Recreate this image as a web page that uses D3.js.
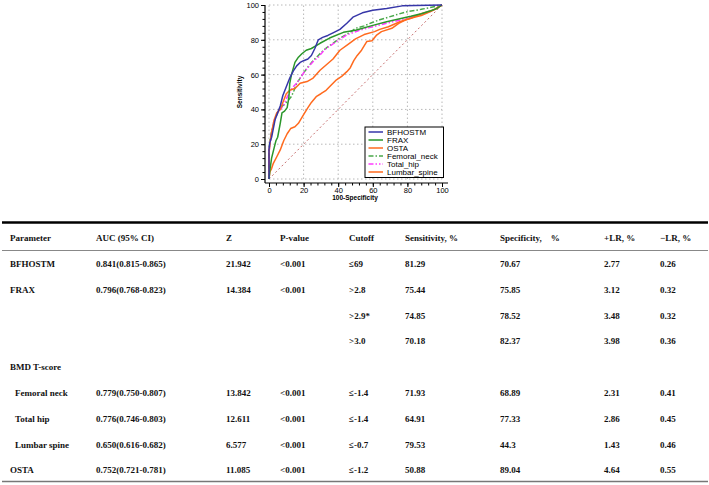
<!DOCTYPE html>
<html><head><meta charset="utf-8">
<script src="https://cdn.jsdelivr.net/npm/d3@7"></script>
<style>body{margin:0;background:#fff}svg{display:block}</style>
</head><body>
<script>
// ---------- ROC data (x = 100-Specificity, y = Sensitivity) ----------
const seriesNames = ["BFHOSTM","FRAX","OSTA","Femoral_neck","Total_hip","Lumbar_spine"];
const bfhostm = [[0,0],[0,17],[0.5,21],[1.5,24],[2.5,29],[3.5,34],[5,38],[6.5,42],[8,48],[10,53],[12,58],[14,62],[16,65],[18,67],[20,68],[22.5,69],[24.5,71],[26.5,75],[28.5,80],[31,81.4],[34,82.5],[37,84],[41,86],[45,89.5],[48.5,93],[54,95.5],[60,97],[68,98],[77,99.5],[100,100]];
const frax = [[0,0],[0.5,5],[1.5,12],[3,18],[4,22],[5,24],[6.5,32],[7.5,38],[9,39],[10.5,41],[11.5,47],[12,55],[13,60],[15,67],[17,70],[19,72],[21.5,74],[24.5,75],[29.5,78],[35,81],[43,84.3],[50,85.5],[60,88.3],[68,90.4],[75,92],[82,93.5],[88,95],[93,96.5],[97,98],[100,100]];
const osta = [[0,0],[0,15],[0.5,20],[1.5,27],[3,34],[4.5,38],[6.5,40],[8,44],[10,49],[12,51],[15,52],[18,55],[22,56],[25.5,58],[29.5,62.5],[33,65.5],[37,69],[41,74],[46.5,78],[50,80.5],[55,83],[61,84.7],[64,86],[69,87.5],[76,90.5],[82,92.3],[88,95],[96,97.5],[100,100]];
const femoralNeck = [[0,0],[0,16],[0.5,22],[1.5,27],[3,33],[4.5,37],[6.5,41],[9,43],[11,45],[13,47.5],[14.5,51],[16,55],[18,58],[20,61],[23,65],[25.5,68],[28.5,71],[31.5,74],[34,76],[37,78],[41,81],[46.5,84],[50,86.6],[55,88],[59.3,89.8],[64,91.5],[69,93],[74,94.5],[79,96],[88,97.5],[100,100]];
const totalHip = [[0,0],[0,15],[0.3,18],[1.5,26],[2.5,32],[4.5,37.5],[6.5,40],[8.3,42],[10,46],[12,50],[14,53],[16,55],[18,58],[20,61],[23.7,65.5],[26,68],[28.5,70],[31,73],[33,75],[36,77],[39,79],[45,82.8],[52.6,85.6],[58,87],[64,88.5],[70,90],[76,91.4],[82,93],[87,94.3],[94,96.5],[100,100]];
const lumbarSpine = [[0,0],[0.5,4],[1.5,6],[2.5,9],[4.5,12.8],[6.5,16.7],[8.5,22],[10.5,26],[12.5,29],[15,30],[17,32],[20,37],[22.5,41],[24.5,44],[27.5,47.5],[30,49],[33,51],[36,54],[39,57],[42,59],[45,61.7],[47,64],[49,68],[51,71],[53.5,74],[56.5,79],[59.5,79.5],[62,82.5],[65,84.7],[71,86.6],[75,89.5],[79,91.5],[84,93],[88,94],[94,96.5],[100,100]];
const majorTicks = [0,20,40,60,80,100];
const axisTitleX = "100-Specificity";
const axisTitleY = "Sensitivity";

// ---------- Table data ----------
const headers = ["Parameter","AUC (95% CI)","Z","P-value","Cutoff","Sensitivity, %","Specificity,    %","+LR, %","\u2212LR, %"];
const params  = ["BFHOSTM","FRAX","","","BMD T-score","Femoral neck","Total hip","Lumbar spine","OSTA"];
const bmdSub  = ["Femoral neck","Total hip","Lumbar spine"];
const aucs    = ["0.841(0.815-0.865)","0.796(0.768-0.823)","","","","0.779(0.750-0.807)","0.776(0.746-0.803)","0.650(0.616-0.682)","0.752(0.721-0.781)"];
const zs      = ["21.942","14.384","","","","13.842","12.611","6.577","11.085"];
const pvals   = ["<0.001","<0.001","","","","<0.001","<0.001","<0.001","<0.001"];
const cutoffs = ["\u226469",">2.8",">2.9*",">3.0","","\u2264-1.4","\u2264-1.4","\u2264-0.7","\u2264-1.2"];
const sens    = ["81.29","75.44","74.85","70.18","","71.93","64.91","79.53","50.88"];
const specs   = ["70.67","75.85","78.52","82.37","","68.89","77.33","44.3","89.04"];
const plrs    = ["2.77","3.12","3.48","3.98","","2.31","2.86","1.43","4.64"];
const nlrs    = ["0.26","0.32","0.32","0.36","","0.41","0.45","0.46","0.55"];

// ---------- Drawing ----------
const W = 709, H = 485;
const svg = d3.select("body").append("svg").attr("width",W).attr("height",H);
const SANS = "Liberation Sans, Arial, sans-serif";
const SERIF = "Liberation Serif, Times New Roman, serif";

const x = d3.scaleLinear().domain([0,100]).range([269,442]);
const y = d3.scaleLinear().domain([0,100]).range([179,5]);

// grid
const grid = svg.append("g").attr("stroke","#b8b8b8").attr("stroke-width",1).attr("stroke-dasharray","1.5,2.5");
majorTicks.forEach(t=>{
  grid.append("line").attr("x1",x(t)).attr("x2",x(t)).attr("y1",y(0)).attr("y2",y(100));
  grid.append("line").attr("x1",x(0)).attr("x2",x(100)).attr("y1",y(t)).attr("y2",y(t));
});

// axes
const yAxisG = svg.append("g").attr("transform","translate(265,0)");
yAxisG.call(d3.axisLeft(y).tickValues(d3.range(0,101,4)).tickSize(2.5).tickFormat(""));
yAxisG.append("g").call(d3.axisLeft(y).tickValues(majorTicks).tickSize(4).tickPadding(2).tickFormat(d3.format("d")));
const xAxisG = svg.append("g").attr("transform","translate(0,183)");
xAxisG.call(d3.axisBottom(x).tickValues(d3.range(0,101,4)).tickSize(2.5).tickFormat(""));
xAxisG.append("g").call(d3.axisBottom(x).tickValues(majorTicks).tickSize(4).tickPadding(1).tickFormat(d3.format("d")));
[yAxisG,xAxisG].forEach(g=>{
  g.selectAll(".domain").remove();
  g.selectAll("text").attr("font-family",SANS).attr("font-size",7.5).attr("fill","#000");
  g.selectAll("line").attr("stroke","#000");
});
svg.append("line").attr("x1",265).attr("x2",265).attr("y1",y(100)).attr("y2",183).attr("stroke","#000").attr("stroke-width",1.2);
svg.append("line").attr("x1",265).attr("x2",448).attr("y1",183).attr("y2",183).attr("stroke","#000").attr("stroke-width",1.2);

// axis titles
svg.append("text").attr("x",355).attr("y",200).attr("text-anchor","middle")
  .attr("font-family",SANS).attr("font-size",6.5).attr("font-weight","bold").text(axisTitleX);
svg.append("text").attr("transform","translate(242,92) rotate(-90)").attr("text-anchor","middle")
  .attr("font-family",SANS).attr("font-size",6.5).attr("font-weight","bold").text(axisTitleY);

// diagonal
svg.append("line").attr("x1",x(0)).attr("y1",y(0)).attr("x2",x(100)).attr("y2",y(100))
  .attr("stroke","#c87070").attr("stroke-width",1).attr("stroke-dasharray","2,2.5");

const styles = [
  {data:bfhostm, color:"#3636a8", dash:null},
  {data:frax, color:"#2a962a", dash:null},
  {data:osta, color:"#ff6a1e", dash:null},
  {data:femoralNeck, color:"#4aa84a", dash:"5,2,1.5,2"},
  {data:totalHip, color:"#ff3cff", dash:"5,2,1.5,2,1.5,2"},
  {data:lumbarSpine, color:"#ff6a1e", dash:null}
];
const line = d3.line().x(d=>x(d[0])).y(d=>y(d[1]));
const drawOrder = [3,4,2,5,1,0];
drawOrder.forEach(i=>{
  const s = styles[i];
  svg.append("path").attr("d",line(s.data)).attr("fill","none").attr("stroke",s.color)
    .attr("stroke-width",1.5).attr("stroke-dasharray",s.dash).attr("stroke-linejoin","round");
});

// legend
const lg = svg.append("g");
lg.append("rect").attr("x",365).attr("y",127).attr("width",78.5).attr("height",50.5)
  .attr("fill","#fff").attr("stroke","#000").attr("stroke-width",1);
seriesNames.forEach((n,i)=>{
  const cy = 132 + i*8;
  lg.append("line").attr("x1",368.5).attr("x2",383).attr("y1",cy).attr("y2",cy)
    .attr("stroke",styles[i].color).attr("stroke-width",1.5).attr("stroke-dasharray",styles[i].dash);
  lg.append("text").attr("x",387).attr("y",cy+2.8).attr("font-family",SANS).attr("font-size",8)
    .attr("fill","#000").text(n);
});

// ---------- Table ----------
const colX = [10,96,226,280,349,405,500,604,660];
const rowY = d3.scaleLinear().domain([0,1]).range([264,289.8]);
svg.append("line").attr("x1",2).attr("x2",708).attr("y1",222.5).attr("y2",222.5).attr("stroke","#000").attr("stroke-width",2.6);
svg.append("line").attr("x1",2).attr("x2",708).attr("y1",250.5).attr("y2",250.5).attr("stroke","#888").attr("stroke-width",1);
svg.append("line").attr("x1",2).attr("x2",708).attr("y1",481.5).attr("y2",481.5).attr("stroke","#777").attr("stroke-width",1.5);

const tcell = (tx,ty,s)=>svg.append("text").attr("x",tx).attr("y",ty).attr("font-family",SERIF)
  .attr("font-size",9).attr("font-weight","bold").attr("fill","#111").style("white-space","pre").text(s);
headers.forEach((h,j)=>tcell(colX[j],241,h));
const cols = [params,aucs,zs,pvals,cutoffs,sens,specs,plrs,nlrs];
params.forEach((p,i)=>{
  const ty = rowY(i)+3;
  cols.forEach((c,j)=>{
    if(!c[i]) return;
    const tx = (j===0 && bmdSub.includes(p)) ? colX[0]+5 : colX[j];
    tcell(tx,ty,c[i]);
  });
});
</script>
</body></html>
